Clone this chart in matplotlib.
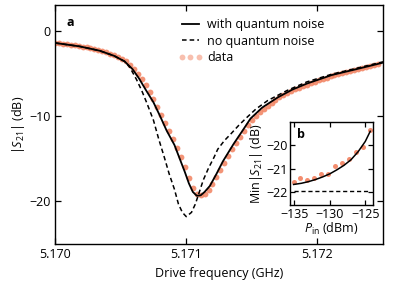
import numpy as np
import matplotlib
matplotlib.use("Agg")
import matplotlib.pyplot as plt

plt.rcParams["font.family"] = ["Open Sans", "DejaVu Sans"]
plt.rcParams["mathtext.fontset"] = "custom"
plt.rcParams["mathtext.rm"] = "Open Sans"
plt.rcParams["mathtext.it"] = "Open Sans:italic"

# main panel: with quantum noise (solid)
freq_solid = [5.17000, 5.17019, 5.17034, 5.17045, 5.17053, 5.17059, 5.17064,
              5.17069, 5.17075, 5.17080, 5.17085, 5.17091, 5.17095, 5.17099,
              5.17102, 5.17105, 5.17108, 5.17111, 5.17114, 5.17118, 5.17123,
              5.17128, 5.17136, 5.17143, 5.17149, 5.17158, 5.17170, 5.17181,
              5.17192, 5.17211, 5.17230, 5.17250]
s21_solid = [-1.44, -1.85, -2.35, -2.95, -3.6, -4.5, -5.6,
             -6.9, -8.4, -10.0, -11.7, -13.4, -15.0, -16.6,
             -17.9, -18.9, -19.35, -19.3, -18.9, -18.2, -16.8,
             -15.3, -13.3, -11.7, -10.3, -9.0, -7.8, -6.9,
             -6.2, -5.2, -4.5, -3.75]

# main panel: no quantum noise (dashed)
freq_dash = [5.17000, 5.17019, 5.17034, 5.17045, 5.17053, 5.17057, 5.17062,
             5.17066, 5.17070, 5.17075, 5.17079, 5.17083, 5.17087, 5.17091,
             5.17094, 5.17097, 5.17100, 5.17104, 5.17107, 5.17110, 5.17113,
             5.17117, 5.17121, 5.17124, 5.17129, 5.17134, 5.17140, 5.17146,
             5.17153, 5.17162, 5.17177, 5.17192, 5.17211, 5.17230, 5.17250]
s21_dash = [-1.44, -1.85, -2.35, -2.95, -3.6, -4.3, -5.7,
            -7.0, -8.5, -10.5, -12.7, -14.7, -16.8, -18.6,
            -20.3, -21.3, -21.8, -21.3, -20.3, -18.9, -17.5,
            -16.1, -14.9, -13.9, -12.9, -12.1, -11.1, -10.2,
            -9.2, -8.2, -7.0, -6.0, -5.1, -4.4, -3.65]

# measured data
freq_data = [5.17000, 5.17003, 5.17006, 5.17009, 5.17012, 5.17015, 5.17018,
             5.17021, 5.17024, 5.17027, 5.17030, 5.17033, 5.17036, 5.17039,
             5.17042, 5.17045, 5.17048, 5.17051, 5.17054, 5.17057, 5.17060,
             5.17063, 5.17066, 5.17069, 5.17072, 5.17075, 5.17078, 5.17081,
             5.17084, 5.17087, 5.17090, 5.17093, 5.17096, 5.17099, 5.17102,
             5.17105, 5.17108, 5.17111, 5.17114, 5.17117, 5.17120, 5.17123,
             5.17126, 5.17129, 5.17132, 5.17135, 5.17138, 5.17141, 5.17144,
             5.17147, 5.17150, 5.17153, 5.17156, 5.17159, 5.17162, 5.17165,
             5.17168, 5.17171, 5.17174, 5.17177, 5.17180, 5.17183, 5.17186,
             5.17189, 5.17192, 5.17195, 5.17198, 5.17201, 5.17204, 5.17207,
             5.17210, 5.17213, 5.17216, 5.17219, 5.17222, 5.17225, 5.17228,
             5.17231, 5.17234, 5.17237, 5.17240, 5.17243, 5.17246]
s21_data = [-1.42, -1.47, -1.54, -1.60, -1.67, -1.73, -1.80,
            -1.87, -1.97, -2.07, -2.17, -2.27, -2.38, -2.54,
            -2.70, -2.85, -3.05, -3.31, -3.57, -4.00, -4.44,
            -5.05, -5.68, -6.42, -7.20, -8.06, -8.94, -9.85,
            -10.80, -11.77, -12.73, -13.73, -14.79, -16.00, -17.30,
            -18.43, -19.14, -19.30, -19.10, -18.62, -18.00, -17.20,
            -16.38, -15.53, -14.72, -13.92, -13.15, -12.44, -11.74,
            -11.11, -10.49, -10.00, -9.57, -9.14, -8.79, -8.47,
            -8.15, -7.83, -7.59, -7.35, -7.11, -6.88, -6.69,
            -6.51, -6.32, -6.14, -5.99, -5.83, -5.67, -5.51,
            -5.35, -5.19, -5.08, -4.97, -4.86, -4.75, -4.64,
            -4.53, -4.41, -4.29, -4.17, -4.05, -3.93]

# inset b
p_in = [-135.1, -134.2, -133.2, -132.2, -131.2, -130.3,
        -129.2, -128.3, -127.3, -126.3, -125.3, -124.3]
min_s21 = [-21.57, -21.40, -21.46, -21.40, -21.21, -21.21,
           -20.87, -20.75, -20.59, -20.31, -20.10, -19.35]
p_fit = [-135.1, -134.0, -133.0, -132.0, -131.0, -130.0, -129.0,
         -128.0, -127.0, -126.0, -125.0, -124.3]
min_fit = [-21.67, -21.62, -21.55, -21.46, -21.35, -21.22, -21.05,
           -20.86, -20.62, -20.28, -19.85, -19.42]
p_nq = [-135.1, -124.3]
min_nq = [-21.93, -21.93]

salmon = "#f2815f"
fs = 9


def style(ax, size):
    ax.tick_params(direction="in", top=True, right=True, length=4,
                   width=0.9, labelsize=size, pad=3)
    for sp in ax.spines.values():
        sp.set_linewidth(1.0)


fig = plt.figure(figsize=(3.99, 2.82), dpi=100)
ax = fig.add_axes([0.138, 0.135, 0.822, 0.847])

ax.plot(freq_data, s21_data, "o", ms=4.2, color=salmon, alpha=0.85,
        mec="none", label="data", zorder=1)
ax.plot(freq_solid, s21_solid, "-", color="black", lw=1.3,
        label="with quantum noise", zorder=3)
ax.plot(freq_dash, s21_dash, "--", color="black", lw=1.1, dashes=(3, 2),
        label="no quantum noise", zorder=2)

ax.set_xlim(5.170, 5.1725)
ax.set_ylim(-25, 3)
ax.set_xticks([5.170, 5.171, 5.172])
ax.set_xticklabels(["5.170", "5.171", "5.172"])
ax.set_yticks([0, -10, -20])
ax.set_yticklabels(["0", "\u221210", "\u221220"])
style(ax, fs)
ax.set_xlabel("Drive frequency (GHz)", fontsize=fs, labelpad=4)
ax.set_ylabel(r"$|S_{21}|$ (dB)", fontsize=fs, labelpad=2)
ax.text(0.035, 0.955, "a", transform=ax.transAxes, fontsize=fs,
        fontweight="bold", va="top")

h, l = ax.get_legend_handles_labels()
leg = ax.legend([h[1], h[2], h[0]], [l[1], l[2], l[0]], loc="upper left",
                bbox_to_anchor=(0.375, 0.946), frameon=False, fontsize=fs,
                numpoints=3, handlelength=1.95, handletextpad=0.4,
                labelspacing=0.3, borderaxespad=0.0, borderpad=0.0)
leg.legend_handles[2].set_alpha(0.5)

# inset
axi = fig.add_axes([0.727, 0.273, 0.208, 0.294])
axi.plot(p_in, min_s21, "o", ms=3.6, color=salmon, mec="none", alpha=0.9)
axi.plot(p_fit, min_fit, "-", color="black", lw=1.1)
axi.plot(p_nq, min_nq, "--", color="black", lw=1.0, dashes=(3, 2))
axi.set_xlim(-135.6, -123.9)
axi.set_ylim(-22.54, -19.03)
axi.set_xticks([-135, -130, -125])
axi.set_xticklabels(["\u2212135", "\u2212130", "\u2212125"])
axi.set_yticks([-20, -21, -22])
axi.set_yticklabels(["\u221220", "\u221221", "\u221222"])
style(axi, fs)
axi.tick_params(length=3.5, pad=2)
axi.set_xlabel(r"$P_{\rm in}$ (dBm)", fontsize=fs, labelpad=0)
axi.set_ylabel(r"$\mathrm{Min}|S_{21}|$ (dB)", fontsize=fs, labelpad=1)
axi.text(0.08, 0.93, "b", transform=axi.transAxes, fontsize=fs,
         fontweight="bold", va="top")

fig.savefig("out.png", dpi=100)
